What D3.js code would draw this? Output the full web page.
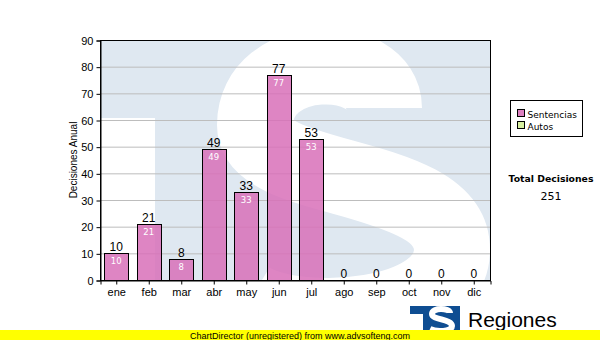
<!DOCTYPE html>
<html>
<head>
<meta charset="utf-8">
<script src="https://cdn.jsdelivr.net/npm/d3@7"></script>
<style>
  body { margin: 0; background: #fff; }
  svg { display: block; }
</style>
</head>
<body>
<svg id="chart" width="600" height="340"></svg>
<script>
const months = ['ene', 'feb', 'mar', 'abr', 'may', 'jun', 'jul', 'ago', 'sep', 'oct', 'nov', 'dic'];
const sentencias = [10, 21, 8, 49, 33, 77, 53, 0, 0, 0, 0, 0];
const yTicks = [0, 10, 20, 30, 40, 50, 60, 70, 80, 90];
const legendItems = [
  {name: 'Sentencias', color: '#dd80c0'},
  {name: 'Autos', color: '#d8f0a0'}
];
const totalLabel = 'Total Decisiones';
const totalValue = 251;

const svg = d3.select('#chart');
const plotL = 100, plotR = 490, plotT = 40, plotB = 280;

const x = d3.scaleBand().domain(months).range([plotL, plotR]).paddingInner(0.27).paddingOuter(0.135);
const y = d3.scaleLinear().domain([0, 90]).range([plotB, plotT]);

svg.append('defs').append('clipPath').attr('id', 'plotclip')
  .append('rect').attr('x', plotL).attr('y', plotT).attr('width', plotR - plotL).attr('height', plotB - plotT);

// watermark logo behind the plot (blue "T" block with a white "S")
const wm = svg.append('g').attr('clip-path', 'url(#plotclip)');
wm.append('rect').attr('x', plotL).attr('y', plotT).attr('width', plotR - plotL).attr('height', plotB - plotT)
  .attr('fill', '#dfe8f1');
wm.append('rect').attr('x', plotL).attr('y', 118).attr('width', 55).attr('height', plotB - 118)
  .attr('fill', '#fff');
wm.append('path')
  .attr('d', 'M384,108 C384,50 255,50 255,125 C255,185 452,170 452,250 C452,320 300,330 250,300')
  .attr('fill', 'none').attr('stroke', '#fff').attr('stroke-width', 76);

// grid
svg.append('g').selectAll('line').data(yTicks.filter(d => d > 0 && d < 90)).join('line')
  .attr('x1', plotL).attr('x2', plotR)
  .attr('y1', d => y(d) + 0.5).attr('y2', d => y(d) + 0.5)
  .attr('stroke', '#bdbdbd').attr('stroke-width', 1);

// bars
svg.append('g').selectAll('rect').data(sentencias).join('rect')
  .attr('x', (d, i) => Math.round(x(months[i])) + 0.5)
  .attr('y', d => Math.round(y(d)) + 0.5)
  .attr('width', Math.round(x.bandwidth()))
  .attr('height', d => plotB - Math.round(y(d)))
  .attr('fill', '#d870b8').attr('fill-opacity', 0.85)
  .attr('stroke', '#000').attr('stroke-width', 1)
  .attr('display', d => d > 0 ? null : 'none');

// labels on top
svg.append('g').selectAll('text').data(sentencias).join('text')
  .attr('x', (d, i) => x(months[i]) + x.bandwidth() / 2)
  .attr('y', d => y(d) - 2)
  .attr('text-anchor', 'middle')
  .attr('font-family', 'Arial, Liberation Sans').attr('font-size', 12)
  .attr('fill', '#000')
  .text(d => d);

// labels inside
svg.append('g').selectAll('text').data(sentencias.filter(d => d > 0)).join('text')
  .attr('x', (d, i) => x(months[i]) + x.bandwidth() / 2)
  .attr('y', d => y(d) + 11)
  .attr('text-anchor', 'middle')
  .attr('font-family', 'DejaVu Sans').attr('font-size', 8.5)
  .attr('fill', '#fff')
  .text(d => d);

// frame
svg.append('rect').attr('x', plotL + 0.5).attr('y', plotT + 0.5)
  .attr('width', plotR - plotL).attr('height', plotB - plotT)
  .attr('fill', 'none').attr('stroke', '#000');

// axes
const yAxis = svg.append('g').attr('transform', `translate(${plotL + 0.5},0.5)`)
  .call(d3.axisLeft(y).tickValues(yTicks).tickSize(4).tickPadding(3));
const xAxis = svg.append('g').attr('transform', `translate(0.5,${plotB + 0.5})`)
  .call(d3.axisBottom(x).tickSize(4).tickPadding(4));
[yAxis, xAxis].forEach(a => {
  a.select('.domain').attr('stroke', '#000');
  a.selectAll('line').attr('stroke', '#000');
  a.selectAll('text').attr('font-family', 'Arial, Liberation Sans').attr('font-size', 11).attr('fill', '#000');
});

svg.append('text')
  .attr('transform', `translate(77,160) rotate(-90)`)
  .attr('text-anchor', 'middle')
  .attr('font-family', 'Arial, Liberation Sans').attr('font-size', 10)
  .text('Decisiones Anual');

// legend
const lg = svg.append('g').attr('transform', 'translate(510.5,100.5)');
lg.append('rect').attr('width', 72).attr('height', 36).attr('fill', '#fff').attr('stroke', '#000');
legendItems.forEach((it, i) => {
  lg.append('rect').attr('x', 7).attr('y', 9 + i * 12).attr('width', 7).attr('height', 7)
    .attr('fill', it.color).attr('stroke', '#000');
  lg.append('text').attr('x', 17).attr('y', 17 + i * 12)
    .attr('font-family', 'DejaVu Sans').attr('font-size', 9).text(it.name);
});

svg.append('text').attr('x', 551).attr('y', 182).attr('text-anchor', 'middle')
  .attr('font-family', 'DejaVu Sans').attr('font-weight', 'bold').attr('font-size', 9.3)
  .text(totalLabel);
svg.append('text').attr('x', 551).attr('y', 200).attr('text-anchor', 'middle')
  .attr('font-family', 'DejaVu Sans').attr('font-size', 11)
  .text(totalValue);

// bottom-right logo
const logo = svg.append('g');
logo.append('rect').attr('x', 410).attr('y', 306).attr('width', 50).attr('height', 25).attr('fill', '#0e4d92');
logo.append('rect').attr('x', 410).attr('y', 314).attr('width', 13).attr('height', 17).attr('fill', '#fff');
logo.append('path')
  .attr('d', 'M450,313 C450,308 432,307 432,314 C432,320 452,319 452,326 C452,332 436,332 430,329')
  .attr('fill', 'none').attr('stroke', '#fff').attr('stroke-width', 6);
logo.append('text').attr('x', 468).attr('y', 327)
  .attr('font-family', 'Arial, Liberation Sans').attr('font-size', 21).text('Regiones');

// unregistered banner
svg.append('rect').attr('x', 0).attr('y', 330).attr('width', 600).attr('height', 10).attr('fill', '#ffff00');
svg.append('text').attr('x', 300).attr('y', 338.5).attr('text-anchor', 'middle')
  .attr('font-family', 'Arial, Liberation Sans').attr('font-size', 9)
  .text('ChartDirector (unregistered) from www.advsofteng.com');
</script>
</body>
</html>
